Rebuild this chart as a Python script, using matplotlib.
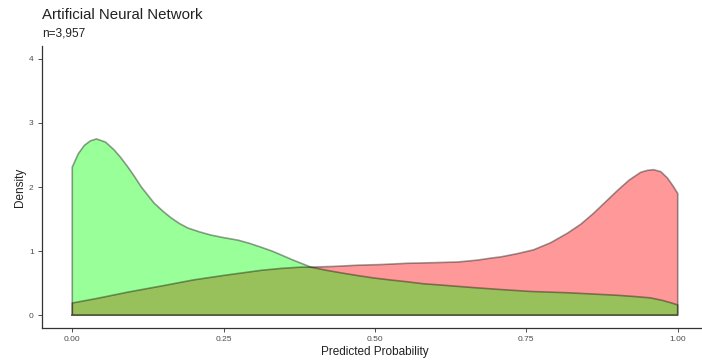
import matplotlib
matplotlib.use("Agg")
import matplotlib.pyplot as plt

plt.rcParams["font.family"] = ["Liberation Sans", "DejaVu Sans"]

title = "Artificial Neural Network"
subtitle = "n=3,957"
x_label = "Predicted Probability"
y_label = "Density"

x_ticks = [0.0, 0.25, 0.5, 0.75, 1.0]
x_tick_labels = ["0.00", "0.25", "0.50", "0.75", "1.00"]
y_ticks = [0, 1, 2, 3, 4]

# density estimate for the negative class (green)
neg_x = [0.0, 0.010, 0.020, 0.030, 0.040, 0.055, 0.069, 0.080, 0.092, 0.103,
         0.114, 0.125, 0.135, 0.150, 0.163, 0.177, 0.191, 0.210, 0.229, 0.250,
         0.274, 0.293, 0.312, 0.330, 0.345, 0.362, 0.378, 0.394, 0.420, 0.444,
         0.470, 0.498, 0.525, 0.554, 0.580, 0.609, 0.636, 0.663, 0.708, 0.757,
         0.818, 0.860, 0.901, 0.930, 0.955, 0.975, 0.990, 1.0]
neg_y = [2.31, 2.52, 2.65, 2.72, 2.75, 2.70, 2.58, 2.46, 2.31, 2.16,
         2.00, 1.87, 1.75, 1.62, 1.52, 1.43, 1.36, 1.30, 1.25, 1.21,
         1.17, 1.12, 1.06, 1.00, 0.94, 0.87, 0.81, 0.75, 0.70, 0.66,
         0.62, 0.58, 0.55, 0.52, 0.49, 0.47, 0.45, 0.43, 0.40, 0.37,
         0.35, 0.33, 0.31, 0.29, 0.27, 0.23, 0.19, 0.16]

# density estimate for the positive class (red)
pos_x = [0.0, 0.040, 0.092, 0.150, 0.200, 0.250, 0.312, 0.345, 0.378, 0.394,
         0.430, 0.472, 0.510, 0.554, 0.600, 0.637, 0.670, 0.691, 0.708, 0.735,
         0.762, 0.790, 0.818, 0.840, 0.861, 0.881, 0.901, 0.920, 0.939, 0.950,
         0.960, 0.972, 0.983, 0.992, 1.0]
pos_y = [0.19, 0.26, 0.36, 0.46, 0.55, 0.62, 0.70, 0.73, 0.75, 0.75,
         0.76, 0.78, 0.79, 0.81, 0.82, 0.83, 0.86, 0.89, 0.91, 0.96,
         1.02, 1.13, 1.28, 1.42, 1.59, 1.77, 1.95, 2.11, 2.23, 2.26,
         2.27, 2.24, 2.14, 2.02, 1.90]

fig = plt.figure(figsize=(7.02, 3.62), dpi=100)
ax = fig.add_axes([42 / 702, (362 - 328) / 362, 666 / 702, 282 / 362])

outline = (0.0, 0.0, 0.0, 0.38)
for xs, ys, col in [(pos_x, pos_y, "#FF0000"), (neg_x, neg_y, "#00FF00")]:
    px = [xs[0]] + list(xs) + [xs[-1]]
    py = [0.0] + list(ys) + [0.0]
    ax.fill(px, py, facecolor=col, alpha=0.4, edgecolor="none")
    ax.plot(px + [px[0]], py + [py[0]], color=outline, lw=1.2,
            solid_joinstyle="round")

ax.set_xlim(-0.05, 1.05)
ax.set_ylim(-0.2, 4.2)
ax.set_xticks(x_ticks)
ax.set_xticklabels(x_tick_labels)
ax.set_yticks(y_ticks)

for side in ["top", "right"]:
    ax.spines[side].set_visible(False)
for side in ["left", "bottom"]:
    ax.spines[side].set_color("#333333")
    ax.spines[side].set_linewidth(0.9)

ax.tick_params(axis="both", labelsize=6, colors="#4D4D4D", length=3, width=0.7,
               pad=3)
ax.set_xlabel(x_label, fontsize=8.5, color="#222222", labelpad=2)
ax.set_ylabel(y_label, fontsize=8.5, color="#222222", labelpad=2)

fig.text(42 / 702, 1 - 15 / 362, title, fontsize=10.8, color="#222222",
         va="center", ha="left")
fig.text(42 / 702, 1 - 33 / 362, subtitle, fontsize=8.6, color="#222222",
         va="center", ha="left")

fig.savefig("out.png", dpi=100)
